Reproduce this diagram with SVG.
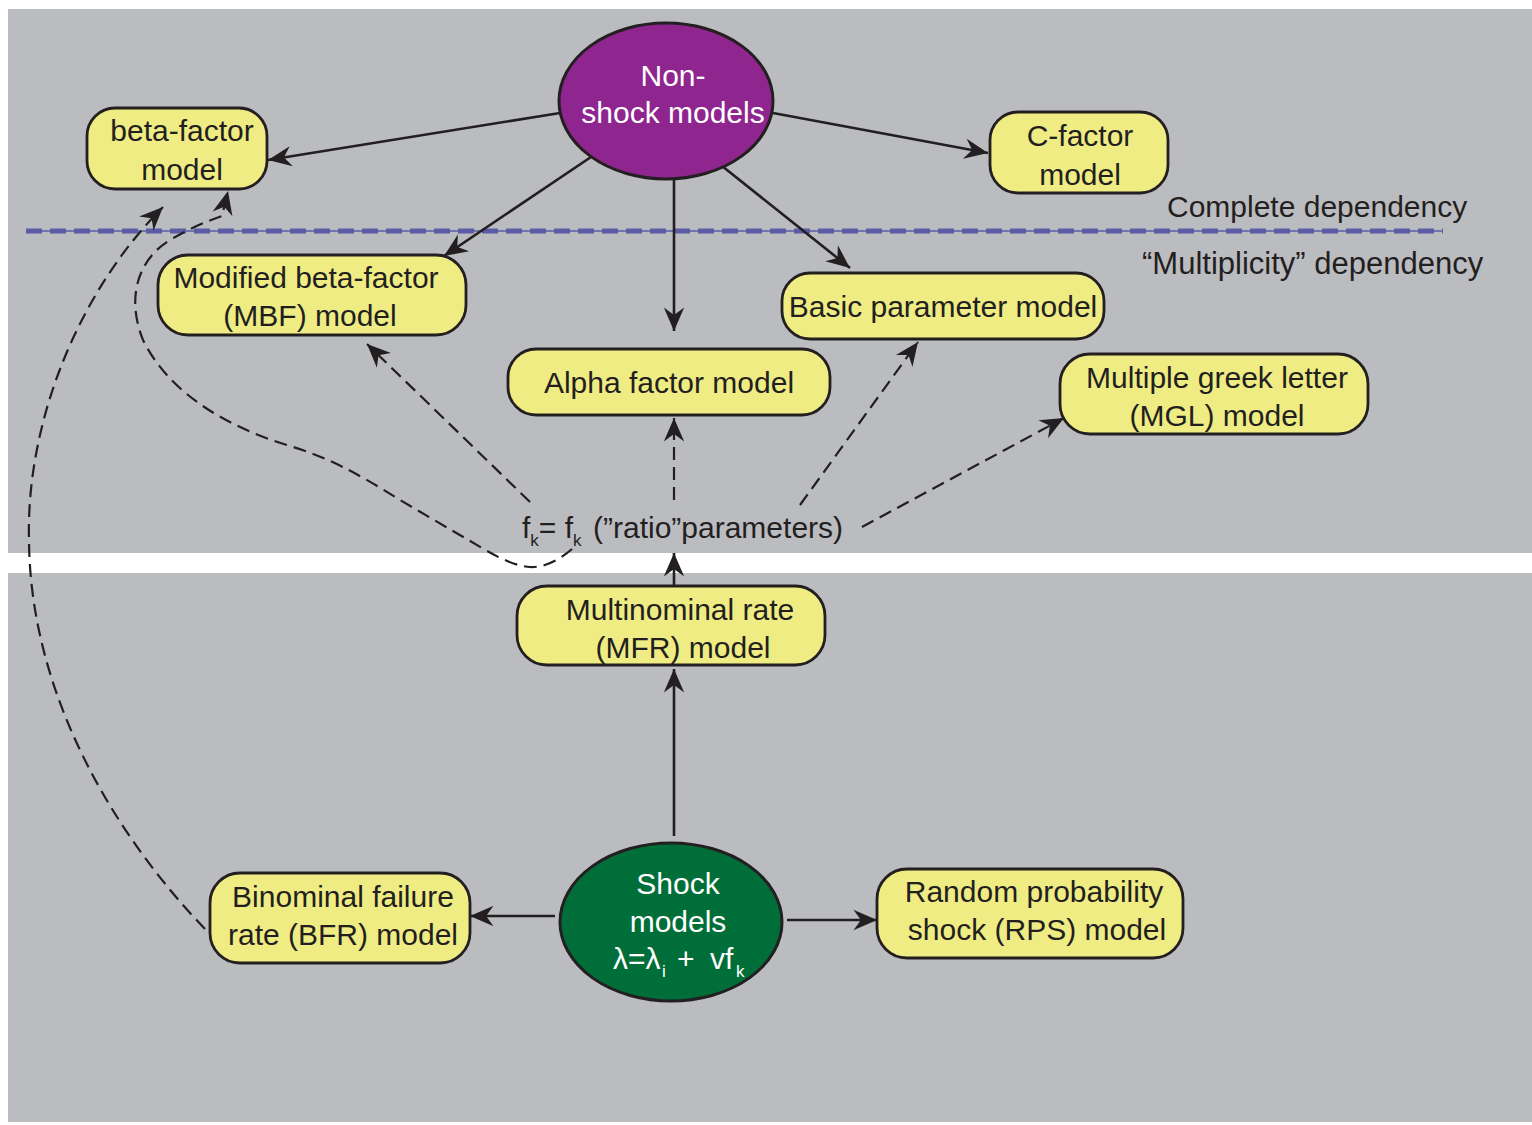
<svg xmlns="http://www.w3.org/2000/svg" width="1532" height="1125" viewBox="0 0 1532 1125">
  <style>
    .panel { fill: #bbbcc0; }
    .box { fill: #efec83; stroke: #231f20; stroke-width: 2.8; }
    .lbl { font-family: "Liberation Sans", Arial, sans-serif; font-size: 30px; fill: #231f20; text-anchor: middle; }
    .wlbl { font-family: "Liberation Sans", Arial, sans-serif; font-size: 30px; fill: #ffffff; text-anchor: middle; }
    .wtxt { font-family: "Liberation Sans", Arial, sans-serif; font-size: 30px; fill: #ffffff; }
    .note { font-family: "Liberation Sans", Arial, sans-serif; font-size: 30px; fill: #231f20; }
    .sub { font-size: 17px; }
    .solid { fill: none; stroke: #231f20; stroke-width: 2.6; marker-end: url(#head); }
    .dash { fill: none; stroke: #231f20; stroke-width: 2.2; stroke-dasharray: 13 7; marker-end: url(#head); }
  </style>
  <defs>
    <marker id="head" markerUnits="userSpaceOnUse" markerWidth="30" markerHeight="30" viewBox="-24 -12 28 24" refX="0" refY="0" orient="auto">
      <path d="M0,0 L-22,-9.5 L-15,0 L-22,9.5 Z" fill="#231f20"/>
    </marker>
  </defs>

  <!-- background panels -->
  <rect class="panel" x="8" y="9" width="1524" height="544"/>
  <rect class="panel" x="8" y="573" width="1524" height="549"/>

  <!-- boundary between complete and multiplicity dependency -->
  <g id="dependency-boundary">
    <line x1="26" y1="231" x2="1443" y2="231" stroke="#5b5ba6" stroke-width="1.5"/>
    <line x1="26" y1="231" x2="1443" y2="231" stroke="#5b5ba6" stroke-width="5" stroke-dasharray="16 8"/>
    <text class="note" x="1167" y="217">Complete dependency</text>
    <text class="note" x="1142" y="274" style="font-size:31px">“Multiplicity” dependency</text>
  </g>

  <!-- connectors -->
  <g id="connectors">
    <path class="solid" d="M560,113 L268,160"/>
    <path class="solid" d="M773,113 L988,153"/>
    <path class="solid" d="M591,157 L444,256"/>
    <path class="solid" d="M674,179 L674,331"/>
    <path class="solid" d="M722,166 L850,268"/>
    <path class="dash" d="M530,502 L367,344"/>
    <path class="dash" d="M674,500 L674,418"/>
    <path class="dash" d="M800,505 L918,342"/>
    <path class="dash" d="M862,527 L1064,418"/>
    <path class="solid" d="M674,585 L674,553"/>
    <path class="solid" d="M674,836 L674,669"/>
    <path class="solid" d="M555,916 L470,916"/>
    <path class="solid" d="M787,920 L877,920"/>
    <path class="dash" d="M205,929 C110,830 30,690 29,540 C26,420 80,290 163,207"/>
    <path class="dash" d="M572,549 Q550,568 530,567 Q512,566 482,548 L400,500 C360,475 330,458 290,446 C230,428 170,395 143,340 C125,295 140,258 170,240 C190,228 210,220 222,216 L228,191"/>
  </g>

  <!-- nodes -->
  <g id="non-shock">
    <ellipse cx="666" cy="101" rx="107" ry="78" fill="#8f268f" stroke="#231f20" stroke-width="3"/>
    <text class="wlbl" x="673" y="86">Non-</text>
    <text class="wlbl" x="673" y="123">shock models</text>
  </g>
  <g id="beta-factor">
    <rect class="box" x="87" y="108" width="180" height="81" rx="28"/>
    <text class="lbl" x="182" y="141">beta-factor</text>
    <text class="lbl" x="182" y="180">model</text>
  </g>
  <g id="c-factor">
    <rect class="box" x="990" y="112" width="178" height="81" rx="28"/>
    <text class="lbl" x="1080" y="146">C-factor</text>
    <text class="lbl" x="1080" y="185">model</text>
  </g>
  <g id="mbf">
    <rect class="box" x="158" y="255" width="308" height="80" rx="30"/>
    <text class="lbl" x="306" y="288">Modified beta-factor</text>
    <text class="lbl" x="310" y="326">(MBF) model</text>
  </g>
  <g id="basic-parameter">
    <rect class="box" x="782" y="273" width="322" height="66" rx="28"/>
    <text class="lbl" x="943" y="317">Basic parameter model</text>
  </g>
  <g id="alpha-factor">
    <rect class="box" x="508" y="349" width="322" height="66" rx="28"/>
    <text class="lbl" x="669" y="393">Alpha factor model</text>
  </g>
  <g id="mgl">
    <rect class="box" x="1060" y="354" width="308" height="80" rx="30"/>
    <text class="lbl" x="1217" y="388">Multiple greek letter</text>
    <text class="lbl" x="1217" y="426">(MGL) model</text>
  </g>
  <g id="ratio-parameters">
    <text class="note" x="522" y="538">f<tspan class="sub" dy="8">k</tspan><tspan dy="-8">= f</tspan><tspan class="sub" dy="8">k</tspan><tspan dy="-8" x="593">(”ratio”parameters)</tspan></text>
  </g>
  <g id="mfr">
    <rect class="box" x="517" y="586" width="308" height="79" rx="30"/>
    <text class="lbl" x="680" y="620">Multinominal rate</text>
    <text class="lbl" x="683" y="658">(MFR) model</text>
  </g>
  <g id="shock">
    <ellipse cx="671" cy="922" rx="111" ry="79" fill="#006e38" stroke="#231f20" stroke-width="3"/>
    <text class="wlbl" x="678" y="894">Shock</text>
    <text class="wlbl" x="678" y="932">models</text>
    <text class="wtxt" x="613" y="969">λ=λ<tspan class="sub" x="662" dy="8">i</tspan><tspan x="677" dy="-8">+</tspan><tspan x="710">vf</tspan><tspan class="sub" x="736" dy="8">k</tspan></text>
  </g>
  <g id="bfr">
    <rect class="box" x="210" y="873" width="260" height="90" rx="30"/>
    <text class="lbl" x="343" y="907">Binominal failure</text>
    <text class="lbl" x="343" y="945">rate (BFR) model</text>
  </g>
  <g id="rps">
    <rect class="box" x="877" y="869" width="306" height="89" rx="30"/>
    <text class="lbl" x="1034" y="902">Random probability</text>
    <text class="lbl" x="1037" y="940">shock (RPS) model</text>
  </g>
</svg>
